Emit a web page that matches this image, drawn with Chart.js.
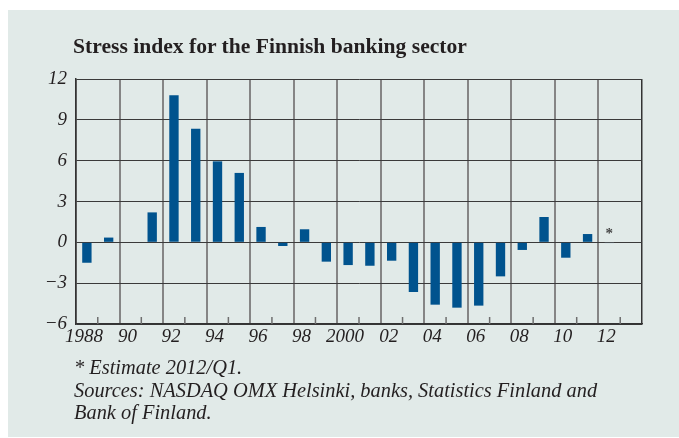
<!DOCTYPE html>
<html lang="en">

<head>
    <meta charset="UTF-8" />
    <title>Stress index for the Finnish banking sector</title>
    <script src="https://cdn.jsdelivr.net/npm/chart.js"></script>
    <style>
        body {
            margin: 0;
            background: #ffffff;
            font-family: 'Liberation Serif', 'DejaVu Serif', serif;
            color: #231f20;
        }

        .wrap {
            position: relative;
            width: 679px;
            height: 438px;
        }

        .panel {
            position: absolute;
            left: 8px;
            top: 10px;
            width: 671px;
            height: 427px;
            background: #e1eae8;
        }

        canvas {
            position: absolute;
            left: 0;
            top: 0;
        }

        h1 {
            position: absolute;
            left: 73px;
            top: 34px;
            margin: 0;
            font-size: 21.6px;
            font-weight: bold;
            white-space: nowrap;
        }

        .notes {
            position: absolute;
            left: 74px;
            top: 356px;
            margin: 0;
            font-size: 20.4px;
            font-style: italic;
            line-height: 22.5px;
            white-space: nowrap;
        }
    </style>
</head>

<body>
    <div class="wrap">
        <div class="panel"></div>
        <canvas id="stressChart" width="679" height="438"></canvas>
        <h1>Stress index for the Finnish banking sector</h1>
        <p class="notes">* Estimate 2012/Q1.<br>Sources: NASDAQ OMX Helsinki, banks, Statistics Finland and<br>Bank of Finland.</p>
    </div>

    <script>
        // data
        const years = ['1988', '1989', '1990', '1991', '1992', '1993', '1994', '1995', '1996', '1997',
            '1998', '1999', '2000', '2001', '2002', '2003', '2004', '2005', '2006', '2007',
            '2008', '2009', '2010', '2011', '2012', '2013'];
        const yearLabels = ['1988', '', '90', '', '92', '', '94', '', '96', '', '98', '', '2000', '',
            '02', '', '04', '', '06', '', '08', '', '10', '', '12', ''];
        const stressIndex = [-1.5, 0.35, 0, 2.2, 10.8, 8.35, 5.95, 5.1, 1.13, -0.27,
            0.96, -1.42, -1.67, -1.72, -1.35, -3.65, -4.58, -4.8, -4.65, -2.5,
            -0.56, 1.86, -1.13, 0.61, -0.06, null];
        const estimateYear = '2012';
        const yTicks = [-6, -3, 0, 3, 6, 9, 12];

        const barBlue = '#00538e';

        // odd-year small ticks on the bottom axis + asterisk on the estimate
        const minorTicks = {
            id: 'minorTicks',
            afterDatasetsDraw(chart) {
                const x = chart.scales.x;
                const area = chart.chartArea;
                const ctx = chart.ctx;
                ctx.save();
                ctx.strokeStyle = '#6e6e6e';
                ctx.lineWidth = 1.5;
                for (let i = 1; i < years.length; i += 2) {
                    const px = (x.getPixelForValue(i - 1) + x.getPixelForValue(i)) / 2;
                    ctx.beginPath();
                    ctx.moveTo(px, area.bottom);
                    ctx.lineTo(px, area.bottom - 7);
                    ctx.stroke();
                }
                const i = years.indexOf(estimateYear);
                ctx.fillStyle = '#444';
                ctx.font = 'bold 15px "Liberation Serif"';
                ctx.textAlign = 'center';
                ctx.textBaseline = 'middle';
                ctx.fillText('*', x.getPixelForValue(i), chart.scales.y.getPixelForValue(0) - 8);
                ctx.restore();
            }
        };

        new Chart(document.getElementById('stressChart'), {
            type: 'bar',
            data: {
                labels: years,
                datasets: [{
                    data: stressIndex,
                    backgroundColor: years.map(y => y === estimateYear ? '#9fbad0' : barBlue),
                    borderWidth: 0,
                    barPercentage: 0.43,
                    categoryPercentage: 1
                }]
            },
            options: {
                responsive: false,
                animation: false,
                layout: {
                    padding: { left: 0, right: 37, top: 79, bottom: 84 }
                },
                plugins: {
                    legend: { display: false },
                    tooltip: { enabled: false }
                },
                scales: {
                    x: {
                        afterFit: s => { s.height = 30; },
                        grid: {
                            offset: true,
                            drawTicks: false,
                            color: c => c.index === undefined ? '#333' : (c.index % 2 === 0 ? '#858585' : 'rgba(0,0,0,0)'),
                            lineWidth: c => c.index === undefined ? 1.5 : 2
                        },
                        border: { color: '#333', width: 1.5 },
                        ticks: {
                            autoSkip: false,
                            maxRotation: 0,
                            padding: 2,
                            labelOffset: -3,
                            color: '#231f20',
                            font: { family: 'Liberation Serif', size: 19, style: 'italic' },
                            callback: (v, i) => yearLabels[i]
                        }
                    },
                    y: {
                        min: -6,
                        max: 12,
                        afterFit: s => { s.width = 76; },
                        afterBuildTicks: s => { s.ticks = yTicks.map(v => ({ value: v })); },
                        grid: { color: '#3a3a3a', lineWidth: 1, drawTicks: false },
                        border: { color: '#333', width: 1.5 },
                        ticks: {
                            padding: 9,
                            color: '#231f20',
                            font: { family: 'Liberation Serif', size: 19, style: 'italic' },
                            callback: v => v < 0 ? '\u2212' + Math.abs(v) : String(v)
                        }
                    }
                }
            },
            plugins: [minorTicks]
        });
    </script>

</body>

</html>
